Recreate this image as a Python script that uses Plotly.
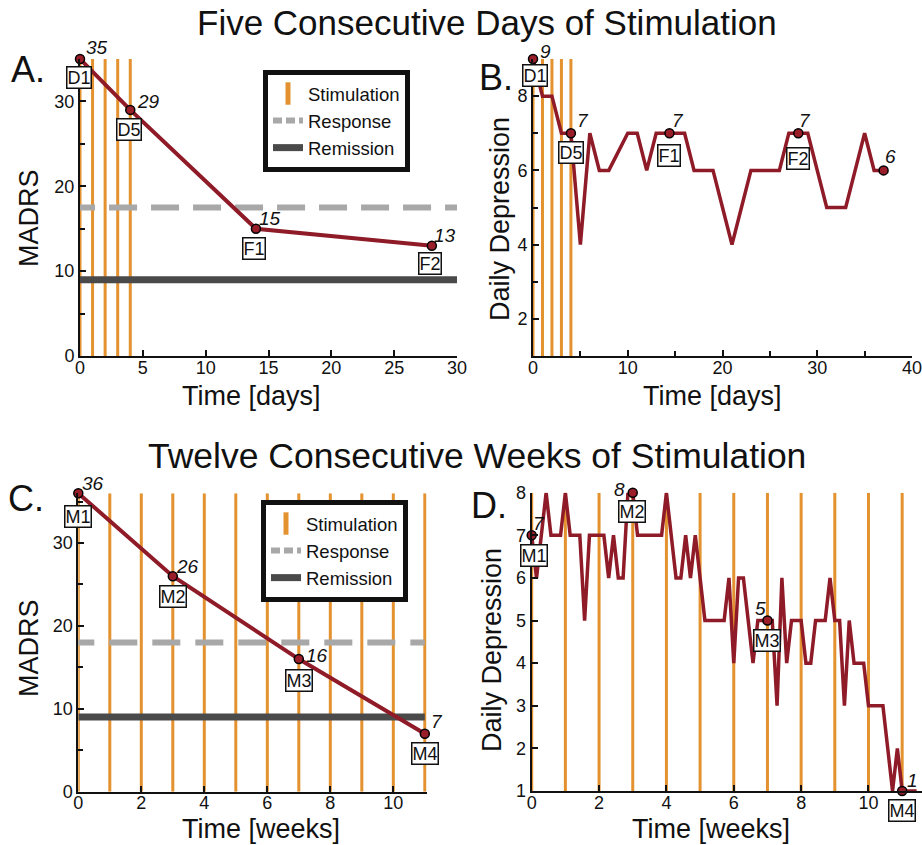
import plotly.graph_objects as go

# ---------------- data ----------------
# Panel A: MADRS, five consecutive days
a_days = [0, 4, 14, 28]
a_madrs = [35, 29, 15, 13]
a_tags = ["D1", "D5", "F1", "F2"]
a_stim_days = [0, 1, 2, 3, 4]
a_response = 17.5
a_remission = 9

# Panel B: daily depression, five consecutive days
b_days = [0, 1, 2, 3, 4, 5, 6, 7, 8, 10, 11, 12, 13, 14, 15, 16, 17, 18, 19, 20,
          21, 22, 23, 24, 25, 26, 27, 28, 29, 30, 31, 32, 33, 34, 35, 36, 37]
b_daily = [9, 8, 8, 7, 7, 4, 7, 6, 6, 7, 7, 6, 7, 7, 7, 7, 6, 6, 6, 5,
           4, 5, 6, 6, 6, 6, 7, 7, 7, 6, 5, 5, 5, 6, 7, 6, 6]
b_mark_days = [0, 4, 14.4, 28, 37]
b_mark_vals = [9, 7, 7, 7, 6]
b_tags = ["D1", "D5", "F1", "F2", ""]
b_stim_days = [0, 1, 2, 3, 4]

# Panel C: MADRS, twelve consecutive weeks
c_weeks = [0, 3, 7, 11]
c_madrs = [36, 26, 16, 7]
c_tags = ["M1", "M2", "M3", "M4"]
c_stim_weeks = [0, 1, 2, 3, 4, 5, 6, 7, 8, 9, 10, 11]
c_response = 18
c_remission = 9

# Panel D: daily depression (one value per day), twelve weeks
d_daily = [7, 6, 7, 8, 7, 7, 7, 8, 7, 7,
           7, 5, 7, 7, 7, 7, 6, 7, 6, 6,
           8, 8, 7, 7, 7, 7, 7, 7, 8, 7,
           6, 6, 7, 6, 7, 6, 5, 5, 5, 5,
           5, 6, 4, 6, 6, 5, 4, 5, 5, 5,
           5, 3, 6, 4, 5, 5, 5, 4, 4, 5,
           5, 5, 6, 5, 5, 3, 5, 4, 4, 4,
           3, 3, 3, 3, 2, 1, 2, 1, 1, 1,
           1]
d_mark_weeks = [0, 3, 7, 11]
d_mark_vals = [7, 8, 5, 1]
d_tags = ["M1", "M2", "M3", "M4"]
d_stim_weeks = [0, 1, 2, 3, 4, 5, 6, 7, 8, 9, 10, 11]

# ---------------- style ----------------
FONT = "Liberation Sans, Arial, Helvetica, sans-serif"
RED = "#8E1B27"
MFILL = "#9A1E2A"
ORANGE = "#E3922F"
GRAY = "#A8A8A8"
DARK = "#4A4A4A"
W, H = 922, 845


def fx(px):
    return px / W


def fy(py):
    return 1 - py / H


fig = go.Figure()


def stim(times, lo, hi, ax):
    xs, ys = [], []
    for t in times:
        xs += [t, t, None]
        ys += [lo, hi, None]
    fig.add_trace(go.Scatter(x=xs, y=ys, mode="lines", line=dict(color=ORANGE, width=3),
                             xaxis="x" + ax, yaxis="y" + ax, showlegend=False,
                             hoverinfo="skip", cliponaxis=False))


def hline(level, x0, x1, ax, color, width, dash, clip=False):
    fig.add_trace(go.Scatter(x=[x0, x1], y=[level, level], mode="lines",
                             line=dict(color=color, width=width, dash=dash),
                             xaxis="x" + ax, yaxis="y" + ax, showlegend=False,
                             hoverinfo="skip", cliponaxis=clip))


def series(xs, ys, ax, width):
    fig.add_trace(go.Scatter(x=xs, y=ys, mode="lines", line=dict(color=RED, width=width),
                             xaxis="x" + ax, yaxis="y" + ax, showlegend=False,
                             cliponaxis=False))


def marks(xs, ys, ax):
    fig.add_trace(go.Scatter(x=xs, y=ys, mode="markers",
                             marker=dict(color=MFILL, size=9, line=dict(color="black", width=1.5)),
                             xaxis="x" + ax, yaxis="y" + ax, showlegend=False,
                             cliponaxis=False))


def legend_entries(leg):
    fig.add_trace(go.Scatter(x=[None], y=[None], mode="markers", name="Stimulation",
                             marker=dict(symbol="line-ns", size=16, color=ORANGE,
                                         line=dict(color=ORANGE, width=7)),
                             legend=leg, legendgroup=leg + "s"))
    fig.add_trace(go.Scatter(x=[None], y=[None], mode="lines", name="Response",
                             line=dict(color=GRAY, width=6, dash="9px,4px"),
                             legend=leg, legendgroup=leg + "r"))
    fig.add_trace(go.Scatter(x=[None], y=[None], mode="lines", name="Remission",
                             line=dict(color=DARK, width=7),
                             legend=leg, legendgroup=leg + "m"))


# Panel A (dashed threshold starts left of the axis so the dash phase matches; clipped)
stim(a_stim_days, 0, 35, "")
hline(a_response, -1.03, 30, "", GRAY, 6, "28px,14px", clip=True)
hline(a_remission, 0, 30, "", DARK, 7, "solid")
series(a_days, a_madrs, "", 4)
marks(a_days, a_madrs, "")
legend_entries("legend")

# Panel B
stim(b_stim_days, 1, 9, "2")
series(b_days, b_daily, "2", 3.5)
marks(b_mark_days, b_mark_vals, "2")

# Panel C
stim(c_stim_weeks, 0, 36, "3")
hline(c_response, -0.38, 11, "3", GRAY, 6, "28px,15px", clip=True)
hline(c_remission, 0, 11, "3", DARK, 7, "solid")
series(c_weeks, c_madrs, "3", 4)
marks(c_weeks, c_madrs, "3")
legend_entries("legend2")

# Panel D
stim(d_stim_weeks, 1, 8, "4")
d_weeks = [i / 7 for i in range(len(d_daily))]
series(d_weeks, d_daily, "4", 3.5)
marks(d_mark_weeks, d_mark_vals, "4")

# ---------------- annotations ----------------
ann = []


def point_labels(xs, ys, tags, ax, voff, toff):
    for i, (x, y, t) in enumerate(zip(xs, ys, tags)):
        ann.append(dict(x=x, y=y, xref="x" + ax, yref="y" + ax, text="<i>%d</i>" % y,
                        showarrow=False, xshift=voff[i][0], yshift=voff[i][1],
                        font=dict(size=19, color="#111", family=FONT)))
        if t:
            ann.append(dict(x=x, y=y, xref="x" + ax, yref="y" + ax, text=t,
                            showarrow=False, xshift=toff[i][0], yshift=toff[i][1],
                            font=dict(size=18, color="#111", family=FONT),
                            bgcolor="white", bordercolor="#111", borderwidth=1.5,
                            borderpad=0))


point_labels(a_days, a_madrs, a_tags, "",
             [(17, 11), (18, 8), (14, 10), (13, 10)],
             [(-1, -19), (-1, -20), (-2, -20), (-2, -18)])
point_labels(b_mark_days, b_mark_vals, b_tags, "2",
             [(12, 7), (12, 13), (9, 13), (7, 13), (7, 14)],
             [(2, -17), (0, -19), (0, -22), (0, -25), (0, 0)])
point_labels(c_weeks, c_madrs, c_tags, "3",
             [(15, 10), (15, 10), (18, 4), (12, 12)],
             [(0, -23), (0, -20), (0, -21), (0, -20)])
point_labels(d_mark_weeks, d_mark_vals, d_tags, "4",
             [(7, 12), (-13, 3), (-7, 12), (10, 11)],
             [(2, -20), (-1, -19), (0, -20), (0, -19)])


def ptext(px, py, text, size, angle=0):
    ann.append(dict(x=fx(px), y=fy(py), xref="paper", yref="paper", text=text,
                    showarrow=False, textangle=angle, xanchor="center", yanchor="middle",
                    font=dict(size=size, color="#111", family=FONT)))


ptext(487, 22, "Five Consecutive Days of Stimulation", 35)
ptext(477, 456, "Twelve Consecutive Weeks of Stimulation", 35.5)
ptext(28, 69, "A.", 36)
ptext(496, 77, "B.", 36)
ptext(26, 499, "C.", 36)
ptext(489, 505, "D.", 36)
ptext(251, 396, "Time [days]", 27)
ptext(712, 396, "Time [days]", 27)
ptext(261, 829, "Time [weeks]", 27)
ptext(711, 829, "Time [weeks]", 27)
ptext(29, 218, "MADRS", 27, -90)
ptext(500, 219, "Daily Depression", 27, -90)
ptext(29, 648, "MADRS", 27, -90)
ptext(492, 650, "Daily Depression", 27, -90)


# ---------------- axes ----------------
def axis(domain, rng, dtick, anchor, is_x, tick0=0, minor=None):
    d = dict(domain=domain, range=rng, dtick=dtick, tick0=tick0, anchor=anchor,
             showline=True, linecolor="#111", linewidth=2, mirror=False,
             ticks="inside", ticklen=6, tickwidth=1.5, tickcolor="#111",
             showgrid=False, zeroline=False, ticklabeloverflow="allow",
             tickfont=dict(size=18, color="#111", family=FONT), fixedrange=True,
             automargin=False, ticklabelstandoff=-6 if is_x else 0)
    if minor:
        d["minor"] = dict(dtick=minor, tick0=tick0, ticks="inside", ticklen=5,
                          tickwidth=1.5, tickcolor="#111", showgrid=False)
    return d


legend_style = dict(xanchor="left", yanchor="top", bordercolor="#111", borderwidth=5,
                    bgcolor="white", font=dict(size=18.5, family=FONT, color="#111"),
                    traceorder="grouped", tracegroupgap=0, itemwidth=30)

fig.update_layout(
    width=W, height=H, autosize=False,
    margin=dict(l=0, r=0, t=0, b=0, pad=0, autoexpand=False),
    paper_bgcolor="white", plot_bgcolor="white",
    font=dict(family=FONT, color="#111"),
    xaxis=axis([fx(80), fx(457)], [0, 30], 5, "y", True),
    yaxis=axis([fy(356), fy(59)], [0, 35], 10, "x", False, 0, 5),
    xaxis2=axis([fx(533), fx(912)], [0, 40], 10, "y2", True, 0, 5),
    yaxis2=axis([fy(356), fy(59)], [1, 9], 2, "x2", False, 0, 1),
    xaxis3=axis([fx(78.3), fx(426.7)], [0, 11.06], 2, "y3", True),
    yaxis3=axis([fy(791.7), fy(493.3)], [0, 36], 10, "x3", False, 0, 5),
    xaxis4=axis([fx(531.7), fx(921.7)], [0, 11.58], 2, "y4", True),
    yaxis4=axis([fy(791), fy(492.7)], [1, 8], 1, "x4", False),
    legend=dict(x=fx(263), y=fy(70), **legend_style),
    legend2=dict(x=fx(261), y=fy(500), **legend_style),
    annotations=ann,
    showlegend=True,
)
# remove the default page margin so the 922x845 figure fills the window exactly
fig.write_html("out.html", config={"displayModeBar": False},
               post_script="document.body.style.margin='0';"
                           "document.body.style.overflow='hidden';")
